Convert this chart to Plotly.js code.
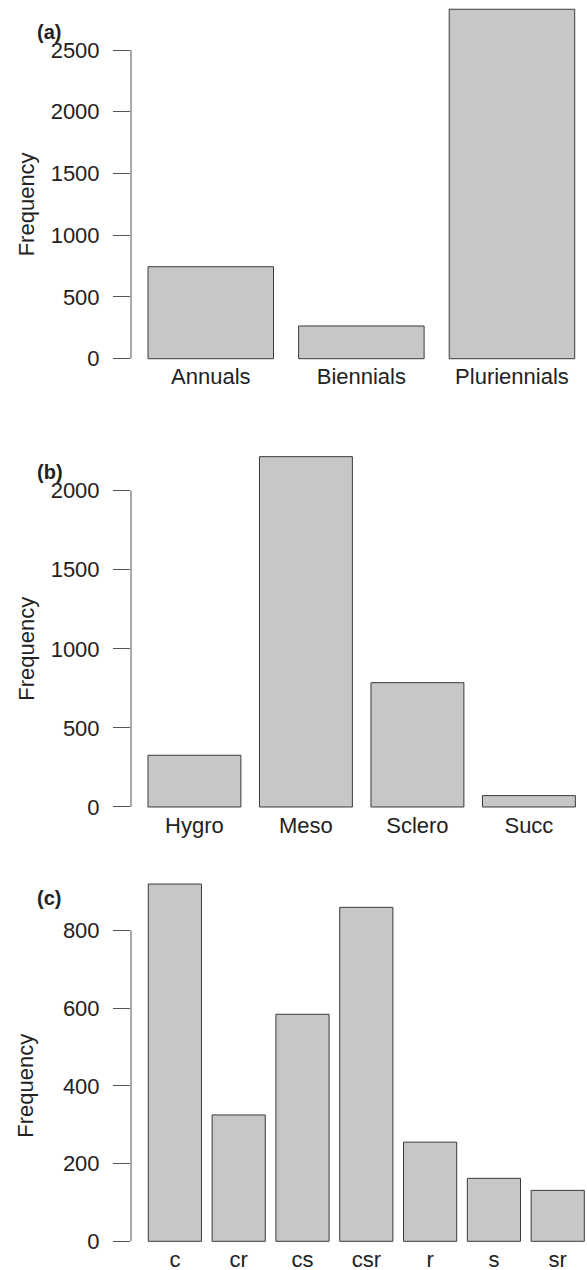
<!DOCTYPE html>
<html>
<head>
<meta charset="utf-8">
<script src="https://cdn.plot.ly/plotly-3.0.1.min.js"></script>
<style>html,body{margin:0;padding:0;background:#fff;}#chart{width:587px;height:1270px;}</style>
</head>
<body>
<div id="chart"></div>
<script>
// ---- data ----
const catsA = ['Annuals', 'Biennials', 'Pluriennials'];
const valsA = [745, 265, 2830];
const ticksA = [0, 500, 1000, 1500, 2000, 2500];

const catsB = ['Hygro', 'Meso', 'Sclero', 'Succ'];
const valsB = [327, 2215, 786, 72];
const ticksB = [0, 500, 1000, 1500, 2000];

const catsC = ['c', 'cr', 'cs', 'csr', 'r', 's', 'sr'];
const valsC = [919, 325, 584, 859, 255, 162, 131];
const ticksC = [0, 200, 400, 600, 800];

const panelLabels = ['(a)', '(b)', '(c)'];

// ---- styling ----
const FONT = 'Liberation Sans, Arial, Helvetica, sans-serif';
const TXT = '#222222';
const FILL = '#c6c7c9';
const EDGE = '#3a3a3a';
const AXC = '#555555';

// bars are drawn on hidden y axes (y4..y6) that share the scale of the
// visible axes (y..y3) but reach higher, so the tall bars are not clipped
function barTrace(x, y, xa, ya) {
  return {
    type: 'bar', x: x, y: y, xaxis: xa, yaxis: ya,
    marker: {color: FILL, line: {color: EDGE, width: 1}},
    hoverinfo: 'x+y', showlegend: false
  };
}

const data = [
  barTrace(catsA, valsA, 'x', 'y4'),
  barTrace(catsB, valsB, 'x2', 'y5'),
  barTrace(catsC, valsC, 'x3', 'y6')
];

const xdom = [131 / 587, 1];
function xAxis(range, anchor) {
  return {
    domain: xdom, range: range, anchor: anchor, type: 'category',
    showgrid: false, zeroline: false, showline: false, ticks: '',
    tickfont: {family: FONT, size: 22, color: TXT},
    ticklabelstandoff: -10, fixedrange: true
  };
}
function yAxis(domain, range, ticks, anchor, standoff) {
  return {
    domain: domain, range: range, anchor: anchor,
    tickmode: 'array', tickvals: ticks,
    showgrid: false, zeroline: false, showline: false,
    ticks: 'outside', ticklen: 17, tickwidth: 1, tickcolor: AXC,
    ticklabelstandoff: 9,
    tickfont: {family: FONT, size: 22, color: TXT},
    title: {text: 'Frequency', font: {family: FONT, size: 22, color: TXT}, standoff: standoff},
    automargin: false, fixedrange: true
  };
}
function hiddenY(domain, range, anchor) {
  return {domain: domain, range: range, anchor: anchor, visible: false, fixedrange: true};
}

function axisLine(xa, ya, ticks) {
  return {type: 'line', xref: xa + ' domain', yref: ya, x0: 0, x1: 0,
          y0: ticks[0], y1: ticks[ticks.length - 1], line: {color: AXC, width: 1}};
}

const layout = {
  width: 587, height: 1270,
  margin: {l: 0, r: 0, t: 0, b: 0},
  paper_bgcolor: '#ffffff', plot_bgcolor: 'rgba(0,0,0,0)',
  bargap: 1 / 6,
  font: {family: FONT, color: TXT},
  xaxis: xAxis([-0.5296, 2.4983], 'y'),
  xaxis2: xAxis([-0.569, 3.521], 'y2'),
  xaxis3: xAxis([-0.688, 6.459], 'y3'),
  yaxis: yAxis([0.70783, 0.97035], [-100, 2600], ticksA, 'x', 9),
  yaxis2: yAxis([0.35461, 0.62362], [-80, 2080], ticksB, 'x2', 9),
  yaxis3: yAxis([0.01280, 0.27724], [-32, 832], ticksC, 'x3', 23),
  yaxis4: hiddenY([0.70783, 1.0], [-100, 2905], 'x'),
  yaxis5: hiddenY([0.35461, 0.66929], [-80, 2446.8], 'x2'),
  yaxis6: hiddenY([0.01280, 0.32283], [-32, 980.8], 'x3'),
  shapes: [axisLine('x', 'y', ticksA), axisLine('x2', 'y2', ticksB), axisLine('x3', 'y3', ticksC)],
  annotations: [
    {text: '<b>' + panelLabels[0] + '</b>', xref: 'paper', yref: 'paper', x: 35 / 587, y: 1 - 31.7 / 1270},
    {text: '<b>' + panelLabels[1] + '</b>', xref: 'paper', yref: 'paper', x: 35 / 587, y: 1 - 472 / 1270},
    {text: '<b>' + panelLabels[2] + '</b>', xref: 'paper', yref: 'paper', x: 35 / 587, y: 1 - 898.3 / 1270}
  ].map(a => Object.assign(a, {xanchor: 'left', yanchor: 'middle', showarrow: false,
                               font: {family: FONT, size: 20, color: TXT}}))
};

Plotly.newPlot('chart', data, layout, {displayModeBar: false, staticPlot: true});
</script>
</body>
</html>
